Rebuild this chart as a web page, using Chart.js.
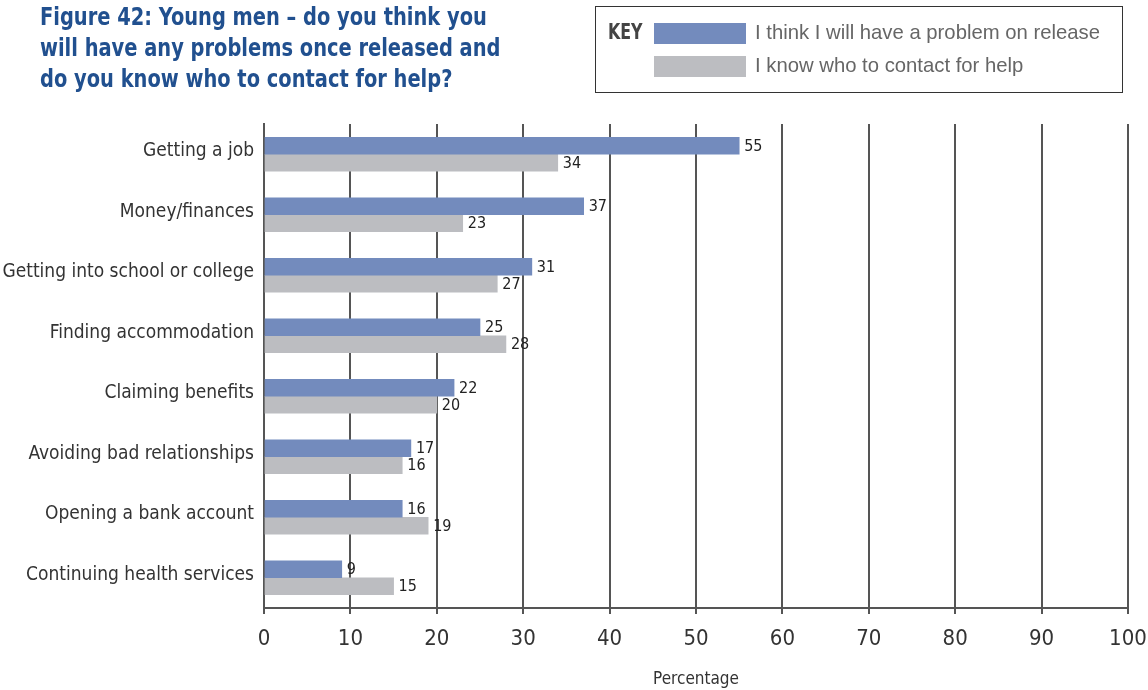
<!DOCTYPE html>
<html>
<head>
<meta charset="utf-8">
<script src="https://cdn.jsdelivr.net/npm/chart.js@4"></script>
<style>
  body { margin: 0; background: #fff; }
  #wrap { position: relative; width: 1148px; height: 690px; }
  #title { position: absolute; left: 40px; top: 2px; margin: 0; font: bold 24px "DejaVu Sans Condensed", sans-serif; line-height: 31px; color: #21508f; transform: scaleX(0.9); transform-origin: left top; white-space: nowrap; }
  #key { position: absolute; left: 595px; top: 6px; width: 528px; height: 87px; border: 1px solid #333; box-sizing: border-box; }
  #key .lbl { position: absolute; left: 12px; top: 12px; font: bold 22px "DejaVu Sans Condensed", sans-serif; color: #444; transform: scaleX(0.8); transform-origin: left top; }
  #key .sw { position: absolute; left: 58px; width: 92px; height: 21px; }
  #key .tx { position: absolute; left: 159px; font: 20.3px "Liberation Sans", Arial, sans-serif; color: #666; white-space: nowrap; }
</style>
</head>
<body>
<div id="wrap">
  <canvas id="chart" width="1148" height="690"></canvas>
  <h1 id="title">Figure 42: Young men – do you think you<br>will have any problems once released and<br>do you know who to contact for help?</h1>
  <div id="key">
    <div class="lbl">KEY</div>
    <div class="sw" id="sw1" style="top:16px"></div><div class="tx" id="tx1" style="top:14px"></div>
    <div class="sw" id="sw2" style="top:49px"></div><div class="tx" id="tx2" style="top:47px"></div>
  </div>
</div>
<script>
const categories = ['Getting a job', 'Money/finances', 'Getting into school or college', 'Finding accommodation', 'Claiming benefits', 'Avoiding bad relationships', 'Opening a bank account', 'Continuing health services'];
const problemValues = [55, 37, 31, 25, 22, 17, 16, 9];
const contactValues = [34, 23, 27, 28, 20, 16, 19, 15];
const seriesNames = ['I think I will have a problem on release', 'I know who to contact for help'];
const xTicks = [0, 10, 20, 30, 40, 50, 60, 70, 80, 90, 100];

const BLUE = '#738bbd', GREY = '#bcbdc1';
const condensed = '"DejaVu Sans Condensed", sans-serif';

document.getElementById('sw1').style.background = BLUE;
document.getElementById('sw2').style.background = GREY;
document.getElementById('tx1').textContent = seriesNames[0];
document.getElementById('tx2').textContent = seriesNames[1];

// values next to each bar end
const barValues = {
  id: 'barValues',
  afterDatasetsDraw(chart) {
    const ctx = chart.ctx;
    ctx.save();
    ctx.font = '16px ' + condensed;
    ctx.fillStyle = '#222';
    ctx.textAlign = 'left';
    ctx.textBaseline = 'middle';
    chart.data.datasets.forEach((ds, i) => {
      chart.getDatasetMeta(i).data.forEach((bar, j) => {
        ctx.fillText(ds.data[j], bar.x + 5, bar.y + 1);
      });
    });
    ctx.restore();
  }
};

new Chart(document.getElementById('chart'), {
  type: 'bar',
  data: {
    labels: categories,
    datasets: [
      { label: seriesNames[0], data: problemValues, backgroundColor: BLUE, barThickness: 17 },
      { label: seriesNames[1], data: contactValues, backgroundColor: GREY, barThickness: 17 }
    ]
  },
  options: {
    indexAxis: 'y',
    responsive: false,
    animation: false,
    layout: { padding: { top: 124, right: 20, left: 0, bottom: 0 } },
    plugins: { legend: { display: false }, tooltip: { enabled: false } },
    scales: {
      x: {
        min: 0, max: 100,
        afterBuildTicks(scale) { scale.ticks = xTicks.map(v => ({ value: v })); },
        afterFit(scale) { scale.height = 82; scale.paddingRight = 0; scale.paddingLeft = 0; },
        grid: { color: '#555', lineWidth: 2, tickLength: 6, drawTicks: true },
        border: { color: '#555', width: 2 },
        ticks: { color: '#333', font: { family: condensed, size: 22 }, padding: 12 },
        title: { display: true, text: 'Percentage', color: '#333', font: { family: condensed, size: 17 }, padding: { top: 10, bottom: 0 } }
      },
      y: {
        afterFit(scale) { scale.width = 264; },
        grid: { display: false, drawTicks: false },
        border: { color: '#555', width: 2 },
        ticks: { color: '#333', font: { family: condensed, size: 19 }, padding: 10, labelOffset: -3 }
      }
    }
  },
  plugins: [barValues]
});
</script>
</body>
</html>
